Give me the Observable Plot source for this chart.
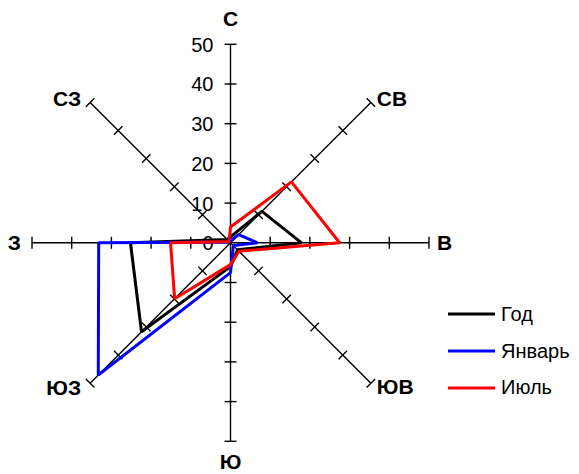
<!DOCTYPE html>
<html>
<head>
<meta charset="utf-8">
<script src="https://cdn.jsdelivr.net/npm/d3@7"></script>
<script src="https://cdn.jsdelivr.net/npm/@observablehq/plot@0.6"></script>
<style>
  html, body { margin: 0; padding: 0; background: #fff; }
  #wrap { position: relative; width: 579px; height: 474px; font-family: "Liberation Sans", Arial, sans-serif; }
  #legend { position: absolute; left: 448px; top: 296px; }
  .li { display: flex; align-items: center; height: 36.8px; font-size: 20px; color: #000; }
  .li svg { margin-right: 6px; }
</style>
</head>
<body>
<div id="wrap"><div id="chart"></div><div id="legend"></div></div>
<script>
// Directions (clockwise from north)
const directions = ["С", "СВ", "В", "ЮВ", "Ю", "ЮЗ", "З", "СЗ"];
// Series values (%), same order as directions
const god    = [1.5, 11.2, 17.9, 2.5, 6.0, 31.7, 25.2, 1.2];
const yanvar = [0.5, 2.9, 6.8, 1.0, 7.5, 47.1, 33.2, 0.3];
const iyul   = [4.0, 21.7, 27.5, 3.0, 5.5, 19.9, 15.1, 0.5];
const seriesNames = ["Год", "Январь", "Июль"];
const seriesColors = ["#000000", "#0000ff", "#ff0000"];
const tickValues = [0, 10, 20, 30, 40, 50];
const rMax = 50;

const W = 579, H = 474;
const cx = 230, cy = 242.3, k = 198.5 / rMax; // px per unit

const ang = i => Math.PI / 2 - i * Math.PI / 4;
const ux = i => Math.cos(ang(i)), uy = i => Math.sin(ang(i));

const dirData = directions.map((name, i) => ({name, i}));
const half = 6 / k;
const ticks = [];
for (const d of dirData) for (const t of tickValues.slice(1)) ticks.push({i: d.i, r: t});

const series = [god, yanvar, iyul];
const pts = [];
series.forEach((vals, s) => vals.forEach((v, i) => pts.push({s: seriesNames[s], i, v})));

// label offsets by direction (style)
const lab = [
  {dx: 0, dy: -25, a: "middle"},
  {dx: 6, dy: -3, a: "start"},
  {dx: 8, dy: 0, a: "start"},
  {dx: 6, dy: 4, a: "start"},
  {dx: 0, dy: 21, a: "middle"},
  {dx: -9, dy: 5, a: "end"},
  {dx: -11, dy: 0, a: "end"},
  {dx: -9, dy: -3, a: "end"}
];

const chart = Plot.plot({
  width: W, height: H, margin: 0,
  style: {fontFamily: "'Liberation Sans', Arial, sans-serif", background: "#fff"},
  x: {domain: [-cx / k, (W - cx) / k], axis: null},
  y: {domain: [-(H - cy) / k, cy / k], axis: null},
  color: {domain: seriesNames, range: seriesColors},
  marks: [
    Plot.text(tickValues, {x: () => 0, y: d => d, text: d => String(d), textAnchor: "end", dx: -17, dy: 1, fontSize: 20, fill: "#000"}),
    Plot.link(dirData, {x1: () => 0, y1: () => 0, x2: d => rMax * ux(d.i), y2: d => rMax * uy(d.i), stroke: "#000", strokeWidth: 1.4}),
    Plot.link(ticks, {
      x1: d => d.r * ux(d.i) - half * uy(d.i), y1: d => d.r * uy(d.i) + half * ux(d.i),
      x2: d => d.r * ux(d.i) + half * uy(d.i), y2: d => d.r * uy(d.i) - half * ux(d.i),
      stroke: "#000", strokeWidth: 1.4
    }),
    ...dirData.map(d => Plot.text([d], {x: e => rMax * ux(e.i), y: e => rMax * uy(e.i), text: "name",
      dx: lab[d.i].dx, dy: lab[d.i].dy, textAnchor: lab[d.i].a, fontSize: 21, fontWeight: "bold", fill: "#000"})),
    Plot.line(pts, {x: d => d.v * ux(d.i), y: d => d.v * uy(d.i), z: "s", stroke: "s", curve: "linear-closed", strokeWidth: 3, strokeLinejoin: "miter"})
  ]
});
document.getElementById("chart").appendChild(chart);

const legend = document.getElementById("legend");
seriesNames.forEach((n, s) => {
  const row = document.createElement("div");
  row.className = "li";
  row.innerHTML = `<svg width="47" height="6"><line x1="0" y1="3" x2="47" y2="3" stroke="${seriesColors[s]}" stroke-width="3"/></svg><span>${n}</span>`;
  legend.appendChild(row);
});
</script>
</body>
</html>
